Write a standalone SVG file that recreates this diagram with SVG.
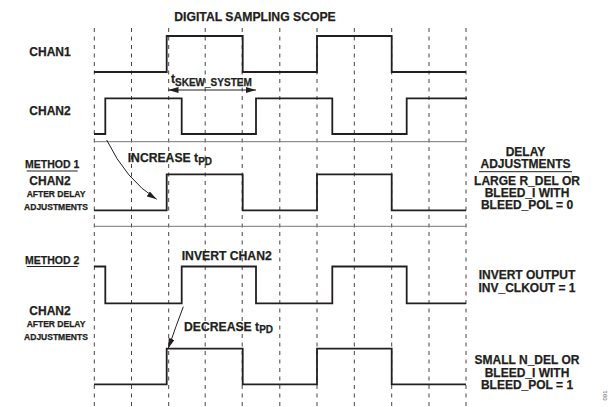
<svg xmlns="http://www.w3.org/2000/svg" width="610" height="407" viewBox="0 0 610 407">
<style>
text{font-family:"Liberation Sans",Arial,sans-serif;font-weight:bold;fill:#231f20;stroke:#231f20;stroke-width:0.25}
.lbl{font-size:12.2px}
.meth{font-size:10.5px;text-anchor:middle}
.ch{font-size:12px;text-anchor:middle}
.sm{font-size:8.5px;text-anchor:middle}
.rt{font-size:12px;text-anchor:middle}
.mid{text-anchor:middle}
.sub{font-size:10px}
.sig{fill:none;stroke:#231f20;stroke-width:1.8;stroke-linejoin:miter}
.grid{stroke:#444;stroke-width:1;stroke-dasharray:4 4.5}
.sep{stroke:#777;stroke-width:1}
.arr{fill:none;stroke:#231f20;stroke-width:1}
.ul{stroke:#231f20;stroke-width:1}
</style>
<defs>
<marker id="ah" viewBox="0 0 10 6" refX="10" refY="3" markerWidth="10" markerHeight="6" orient="auto" markerUnits="userSpaceOnUse">
<path d="M0,0 L10,3 L0,6 Z" fill="#231f20"/>
</marker>
<marker id="ahs" viewBox="0 0 10 6" refX="10" refY="3" markerWidth="10" markerHeight="6" orient="auto-start-reverse" markerUnits="userSpaceOnUse">
<path d="M0,0 L10,3 L0,6 Z" fill="#231f20"/>
</marker>
</defs>
<g id="grid">
<line class="grid" x1="94.3" y1="28" x2="94.3" y2="407"/>
<line class="grid" x1="131.5" y1="28" x2="131.5" y2="407"/>
<line class="grid" x1="168.7" y1="28" x2="168.7" y2="407"/>
<line class="grid" x1="205.2" y1="28" x2="205.2" y2="407"/>
<line class="grid" x1="242.2" y1="28" x2="242.2" y2="407"/>
<line class="grid" x1="279.8" y1="28" x2="279.8" y2="407"/>
<line class="grid" x1="317" y1="28" x2="317" y2="407"/>
<line class="grid" x1="354.3" y1="28" x2="354.3" y2="407"/>
<line class="grid" x1="391.7" y1="28" x2="391.7" y2="407"/>
<line class="grid" x1="429" y1="28" x2="429" y2="407"/>
<line class="grid" x1="466" y1="28" x2="466" y2="407"/>
<line class="sep" x1="94" y1="141.7" x2="466" y2="141.7"/>
<line class="sep" x1="94" y1="226.3" x2="466" y2="226.3"/>
</g>
<g id="title"><text class="lbl mid" x="255" y="20.5">DIGITAL SAMPLING SCOPE</text></g>
<g id="chan1">
<text class="ch" x="50" y="56">CHAN1</text>
<polyline class="sig" points="94,72 166.7,72 166.7,36 242.7,36 242.7,72 317,72 317,36 391.7,36 391.7,72 466,72"/>
</g>
<g id="chan2">
<text class="ch" x="50" y="115">CHAN2</text>
<polyline class="sig" points="94,134 105.3,134 105.3,98.3 181.7,98.3 181.7,134 256,134 256,98.3 332.3,98.3 332.3,134 406.7,134 406.7,98.3 467,98.3"/>
</g>
<g id="method1">
<text class="meth" x="52.2" y="168">METHOD 1</text>
<line class="ul" x1="26.7" y1="171" x2="77.7" y2="171"/>
<text class="ch" x="50" y="185">CHAN2</text>
<text class="sm" x="56" y="197">AFTER DELAY</text>
<text class="sm" x="56" y="210">ADJUSTMENTS</text>
<polyline class="sig" points="94,210.3 166.7,210.3 166.7,174.3 242.7,174.3 242.7,210.3 317,210.3 317,174.3 391.7,174.3 391.7,210.3 466,210.3"/>
</g>
<g id="method2">
<text class="meth" x="52.2" y="263.5">METHOD 2</text>
<line class="ul" x1="26.7" y1="266.5" x2="77.7" y2="266.5"/>
<polyline class="sig" points="94,266.5 105.3,266.5 105.3,303.3 181.7,303.3 181.7,266.5 256,266.5 256,303.3 332.3,303.3 332.3,266.5 406.7,266.5 406.7,303.3 466,303.3"/>
<text class="ch" x="50" y="315">CHAN2</text>
<text class="sm" x="56" y="327">AFTER DELAY</text>
<text class="sm" x="56" y="339.5">ADJUSTMENTS</text>
<polyline class="sig" points="94,384.3 166.7,384.3 166.7,348.7 242.7,348.7 242.7,384.3 317,384.3 317,348.7 391.7,348.7 391.7,384.3 466,384.3"/>
</g>
<g id="connectors">
<line class="arr" x1="168.5" y1="90" x2="256" y2="90" marker-start="url(#ahs)" marker-end="url(#ah)"/>
<path class="arr" d="M106.7,140 Q126,180 156.7,199.3" marker-end="url(#ah)"/>
<path class="arr" d="M183.3,306.7 Q176,326 168.3,348.3" marker-end="url(#ah)"/>
</g>
<g id="labels">
<text class="lbl" x="171" y="83">t<tspan class="sub" dy="2.5">SKEW_SYSTEM</tspan></text>
<text class="lbl" x="127.7" y="162.3">INCREASE t<tspan class="sub" dy="2.5">PD</tspan></text>
<text class="lbl" x="181.7" y="260">INVERT CHAN2</text>
<text class="lbl" x="184" y="330.7">DECREASE t<tspan class="sub" dy="2.5">PD</tspan></text>
</g>
<g id="delay-adjustments">
<text class="rt" x="525.5" y="156">DELAY</text>
<text class="rt" x="525.5" y="168.3">ADJUSTMENTS</text>
<line class="ul" x1="479" y1="171.7" x2="572" y2="171.7"/>
<text class="rt" x="527" y="185">LARGE R_DEL OR</text>
<text class="rt" x="527" y="197">BLEED_I WITH</text>
<text class="rt" x="527" y="209">BLEED_POL = 0</text>
<text class="rt" x="527" y="279">INVERT OUTPUT</text>
<text class="rt" x="527" y="291.7">INV_CLKOUT = 1</text>
<text class="rt" x="527" y="364">SMALL N_DEL OR</text>
<text class="rt" x="527" y="376.5">BLEED_I WITH</text>
<text class="rt" x="527" y="389.3">BLEED_POL = 1</text>
</g>
<text x="607" y="395.5" font-size="6" style="font-weight:normal;fill:#666;stroke:none" text-anchor="middle" transform="rotate(-90 607 395.5)">091</text>
</svg>
